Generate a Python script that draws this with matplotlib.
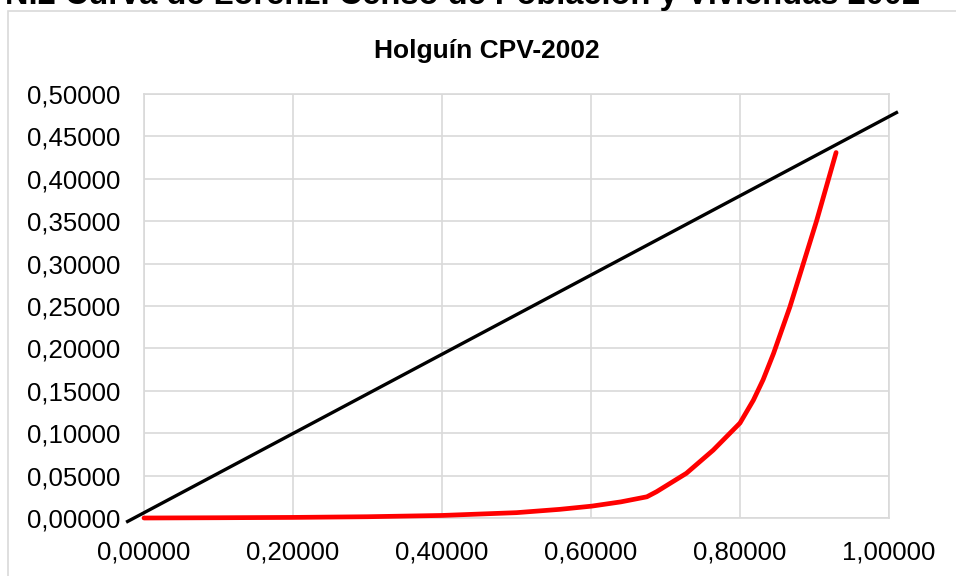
import matplotlib
matplotlib.use("Agg")
import matplotlib.pyplot as plt
from matplotlib.patches import Rectangle
from matplotlib.ticker import FuncFormatter, MultipleLocator

plt.rcParams["font.family"] = ["Liberation Sans", "DejaVu Sans"]

# ---- Data ----
lorenz_x = [0.000, 0.100, 0.200, 0.300, 0.400, 0.500, 0.558, 0.601, 0.640, 0.675,
            0.688, 0.728, 0.764, 0.800, 0.818, 0.831, 0.845, 0.867, 0.885,
            0.903, 0.916, 0.929]
lorenz_y = [0.0000, 0.0003, 0.0007, 0.0015, 0.0030, 0.0063, 0.0102, 0.0140, 0.0190, 0.0250,
            0.0310, 0.0527, 0.0800, 0.1120, 0.1390, 0.1630, 0.1940, 0.2490, 0.3000,
            0.3510, 0.3910, 0.4310]

equal_x = [-0.024, 1.012]
equal_y = [-0.005, 0.479]

x_ticks = [0.0, 0.2, 0.4, 0.6, 0.8, 1.0]
suptitle = "N.2 Curva de Lorenz. Censo de Población y Viviendas 2002"
title = "Holguín CPV-2002"

W, H = 956, 576
fig = plt.figure(figsize=(W / 100, H / 100), dpi=100)

# chart area border (Excel style), runs off the right and bottom edges
fig.patches.append(Rectangle((8 / W, -0.1), 1.2, 1.1 - 11 / H,
                             transform=fig.transFigure, fill=False,
                             edgecolor="#d9d9d9", linewidth=1.2))

ax = fig.add_axes([144 / W, 1 - 518 / H, (889 - 144) / W, (518 - 94) / H])

ax.plot(equal_x, equal_y, color="black", linewidth=2.4, clip_on=False,
        solid_capstyle="butt", zorder=3)
ax.plot(lorenz_x, lorenz_y, color="#ff0000", linewidth=3.4, clip_on=False,
        solid_capstyle="round", solid_joinstyle="round", zorder=4)

ax.set_xlim(0, 1)
ax.set_ylim(0, 0.5)
ax.set_xticks(x_ticks)
ax.yaxis.set_major_locator(MultipleLocator(0.05))
fmt = FuncFormatter(lambda v, p: f"{v:.5f}".replace(".", ","))
ax.xaxis.set_major_formatter(fmt)
ax.yaxis.set_major_formatter(fmt)

ax.grid(True, color="#d9d9d9", linewidth=1.2)
ax.set_axisbelow(True)
for s in ax.spines.values():
    s.set_color("#d9d9d9")
    s.set_linewidth(1.2)
ax.tick_params(axis="both", length=0, labelsize=18.5, colors="black")
ax.tick_params(axis="y", pad=17)
ax.tick_params(axis="x", pad=16)

fig.text(487 / W, 1 - 58 / H, title, ha="center", va="baseline",
         fontsize=19, fontweight="bold")
# page heading above the chart, cut by the top edge as in the source
fig.text(920 / W, 1 - 4 / H, suptitle, ha="right", va="baseline",
         fontsize=23.5, fontweight="bold")

fig.savefig("out.png", dpi=100)
